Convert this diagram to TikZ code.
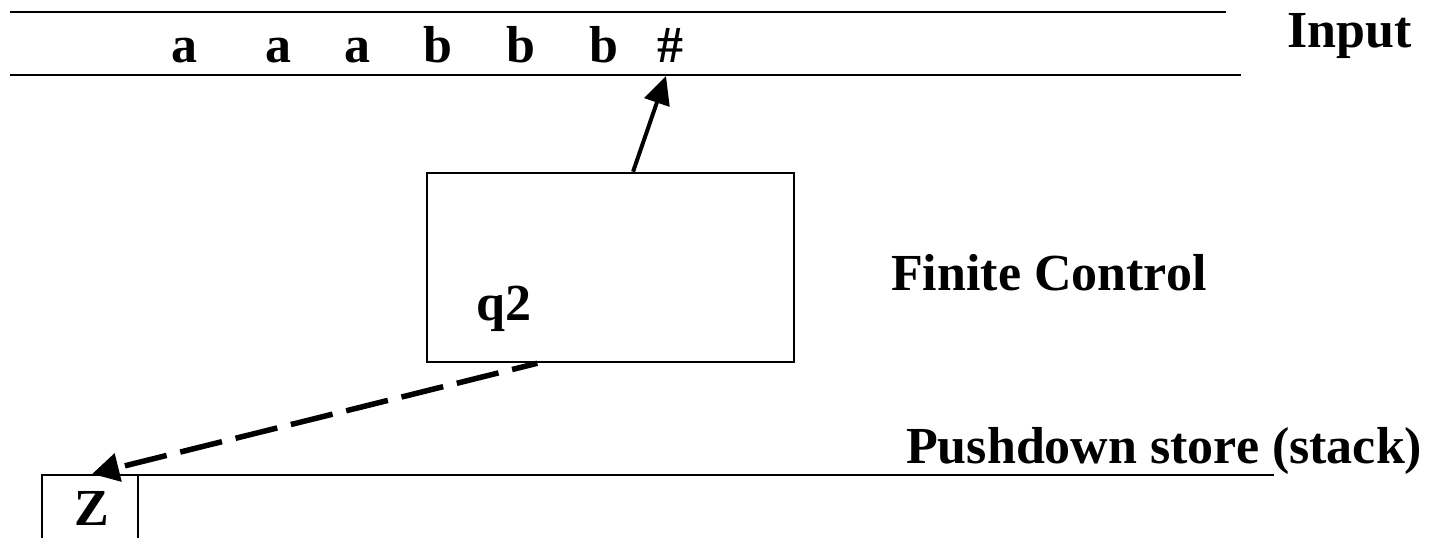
\documentclass[tikz,border=0pt]{standalone}
\usepackage{fontspec}
\setmainfont{Liberation Serif}
\usetikzlibrary{arrows.meta,calc}
\begin{document}
\begin{tikzpicture}[x=1pt,y=-1pt,
  lbl/.style={font=\fontsize{52}{60}\selectfont\bfseries, inner sep=0pt},
  sym/.style={lbl, anchor=base},
  tape/.style={line width=2.5pt},
  stackline/.style={line width=2.2pt},
  ctrl/.style={draw, line width=2.5pt, inner sep=0pt, minimum width=367pt, minimum height=189pt},
  readarrow/.style={line width=4pt, -{Triangle[length=28pt,width=26pt]}},
  pusharrow/.style={line width=5.5pt, dash pattern=on 43pt off 14pt, dash phase=17pt,
                    -{Triangle[length=27pt,width=28pt]}}]
\useasboundingbox (0,0) rectangle (1444,538);

% input tape
\draw[tape] (10,12) -- (1226,12);
\draw[tape] (10,75) -- (1241,75);
\node[sym] (s1) at (184,62) {a};
\node[sym] (s2) at (278,62) {a};
\node[sym] (s3) at (357,62) {a};
\node[sym] (s4) at (438,62) {b};
\node[sym] (s5) at (521,62) {b};
\node[sym] (s6) at (604,62) {b};
\node[sym] (s7) at (670,62) {\#};
\node[lbl, anchor=base west] (inlbl) at (1287,47) {Input};

% finite control
\node[ctrl] (fc) at (610.5,267.5) {};
\node[lbl, anchor=base west] (state) at (476,320) {q2};
\node[lbl, anchor=base west] (fclbl) at (891,290) {Finite Control};

% pushdown store
\draw[stackline] (42,538) -- (42,475) -- (1274,475);
\draw[stackline] (138,475) -- (138,538);
\node[sym] (ztop) at (92,525) {Z};
\node[lbl, anchor=base west] (pdlbl) at (906,463) {Pushdown store (stack)};

% connectors
\coordinate (readpos) at (666,76);
\coordinate (stacktop) at (92,474);
\draw[readarrow] ($(fc.north west)!0.561!(fc.north east)$) -- (readpos);
\draw[pusharrow] ($(fc.south west)!0.302!(fc.south east)$) -- (stacktop);
\end{tikzpicture}
\end{document}
